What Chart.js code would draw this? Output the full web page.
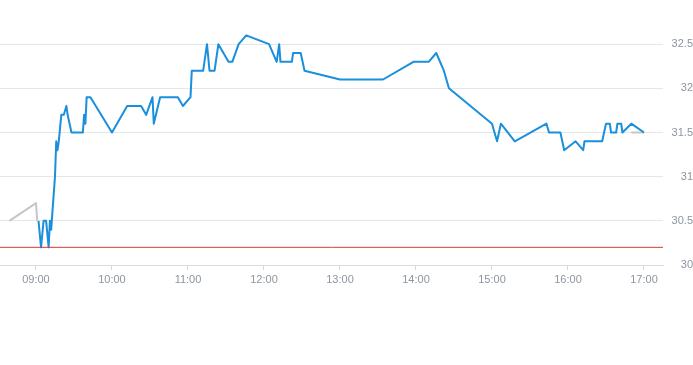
<!DOCTYPE html>
<html>
<head>
<meta charset="utf-8">
<script src="https://cdn.jsdelivr.net/npm/chart.js@4.4.1/dist/chart.umd.min.js"></script>
<style>
  html, body { margin: 0; padding: 0; background: #fff; }
</style>
</head>
<body>
<canvas id="priceChart" width="693" height="365"></canvas>
<script>
// session prices
const times = ['09:02','09:04','09:06','09:08','09:10','09:11','09:12','09:15','09:16','09:17','09:18',
  '09:20','09:22','09:24','09:25','09:28','09:37','09:38','09:39','09:40','09:43','10:00','10:12',
  '10:23','10:27','10:32','10:33','10:38','10:52','10:56','11:02','11:03','11:12','11:15','11:17',
  '11:21','11:24','11:32','11:35','11:40','11:46','12:04','12:10','12:12','12:13','12:22','12:23',
  '12:29','12:32','13:00','13:34','13:58','14:10','14:16','14:22','14:26','15:00','15:04','15:07',
  '15:18','15:43','15:45','15:54','15:57','16:06','16:12','16:13','16:27','16:30','16:33','16:34',
  '16:38','16:39','16:42','16:43','16:50','17:00'];
const prices = [30.5,30.2,30.5,30.5,30.2,30.5,30.4,31.0,31.4,31.3,31.4,
  31.7,31.7,31.8,31.7,31.5,31.5,31.7,31.6,31.9,31.9,31.5,31.8,
  31.8,31.7,31.9,31.6,31.9,31.9,31.8,31.9,32.2,32.2,32.5,32.2,
  32.2,32.5,32.3,32.3,32.5,32.6,32.5,32.3,32.5,32.3,32.3,32.4,
  32.4,32.2,32.1,32.1,32.3,32.3,32.4,32.2,32.0,31.6,31.4,31.6,
  31.4,31.6,31.5,31.5,31.3,31.4,31.3,31.4,31.4,31.6,31.6,31.5,
  31.5,31.6,31.6,31.5,31.6,31.5];

// pre / post market
const preTimes = ['08:39','09:00','09:01'];
const prePrices = [30.5,30.7,30.5];
const postTimes = ['16:50','17:00'];
const postPrices = [31.5,31.5];

const prevClose = 30.2;
const hourTicks = ['09:00','10:00','11:00','12:00','13:00','14:00','15:00','16:00','17:00'];
const yTicks = [30, 30.5, 31, 31.5, 32, 32.5];

const toMin = t => { const p = t.split(':'); return (+p[0]) * 60 + (+p[1]); };
const pad = n => String(n).padStart(2, '0');
const fmt = m => pad(Math.floor(m / 60)) + ':' + pad(Math.round(m % 60));
const toPts = (ts, vs) => ts.map((t, i) => ({ x: toMin(t), y: vs[i] }));

const xMin = 511.6;
const xMax = 1035;
const labelColor = '#8d95a1';

const ctx = document.getElementById('priceChart').getContext('2d');

new Chart(ctx, {
  type: 'line',
  data: {
    datasets: [
      {
        data: [{ x: xMin, y: prevClose }, { x: xMax, y: prevClose }],
        borderColor: '#d83b36',
        borderWidth: 1,
        pointRadius: 0
      },
      {
        data: toPts(preTimes, prePrices),
        borderColor: '#c4c6c9',
        borderWidth: 2,
        pointRadius: 0
      },
      {
        data: toPts(times, prices),
        borderColor: '#1a8fdc',
        borderWidth: 2,
        pointRadius: 0
      },
      {
        data: toPts(postTimes, postPrices),
        borderColor: '#c4c6c9',
        borderWidth: 2,
        pointRadius: 0
      }
    ]
  },
  options: {
    responsive: false,
    animation: false,
    layout: { padding: 0, autoPadding: false },
    plugins: {
      legend: { display: false },
      tooltip: { enabled: false }
    },
    elements: { line: { tension: 0, borderJoinStyle: 'round' } },
    scales: {
      x: {
        type: 'linear',
        min: xMin,
        max: xMax,
        afterBuildTicks: axis => { axis.ticks = hourTicks.map(t => ({ value: toMin(t) })); },
        afterFit: axis => { axis.height = 100; axis.paddingLeft = 0; axis.paddingRight = 0; },
        grid: { drawOnChartArea: false, drawTicks: true, tickLength: 5, color: '#d8dce1' },
        border: { color: '#d8dce1' },
        ticks: {
          padding: 3,
          maxRotation: 0,
          color: labelColor,
          font: { family: 'Liberation Sans, Arial, sans-serif', size: 11 },
          callback: v => fmt(v)
        }
      },
      y: {
        position: 'right',
        min: 30,
        max: 33,
        afterBuildTicks: axis => { axis.ticks = yTicks.map(v => ({ value: v })); },
        afterFit: axis => { axis.width = 30; axis.paddingTop = 0; axis.paddingBottom = 0; },
        grid: { color: '#e4e6e9', drawTicks: false },
        border: { display: false },
        ticks: {
          padding: 10,
          crossAlign: 'far',
          color: labelColor,
          font: { family: 'Liberation Sans, Arial, sans-serif', size: 11 },
          callback: v => String(v)
        }
      }
    }
  }
});
</script>
</body>
</html>
